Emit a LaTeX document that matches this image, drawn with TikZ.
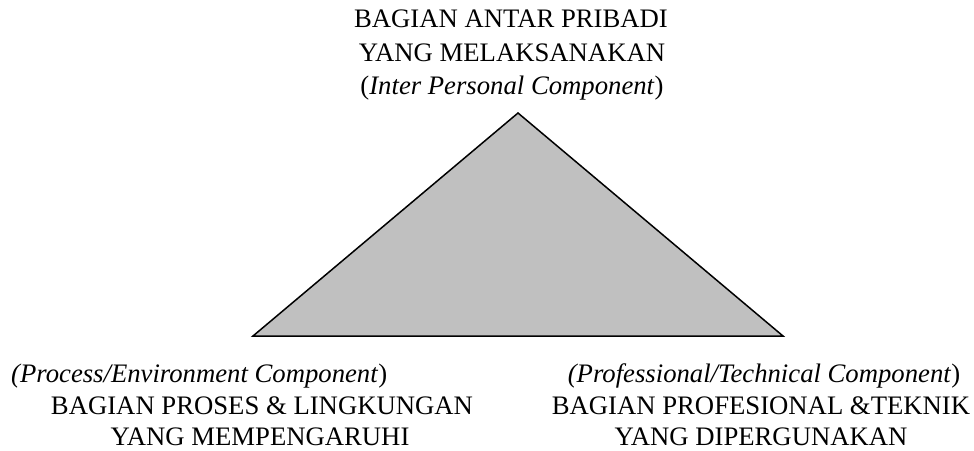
\documentclass[tikz,border=0pt]{standalone}
\usepackage{fontspec}
\setmainfont{Liberation Serif}
\begin{document}
\begin{tikzpicture}[x=1pt,y=-1pt,
	lbl/.style={inner sep=0pt,anchor=base,font=\fontsize{26.7}{33}\selectfont},
	lblw/.style={lbl,anchor=base west}]
	\useasboundingbox (0,0) rectangle (974,450);
	\coordinate (T) at (518,113);
	\coordinate (L) at (253,336);
	\coordinate (R) at (783,336);
	\draw [line width=1.5pt,line join=miter,fill={rgb,255:red,192;green,192;blue,192}] (T) -- (L) -- (R) -- cycle;
	% top
	\node [lbl] (t1) at (511,27) {BAGIAN ANTAR PRIBADI};
	\node [lbl] (t2) at (512,61) {YANG MELAKSANAKAN};
	\node [lbl] (t3) at (512,94) {(\textit{Inter Personal Component})};
	% left
	\node [lblw] (l1) at (11,382) {\textit{(Process/Environment Component})};
	\node [lbl] (l2) at (262,414) {BAGIAN PROSES \& LINGKUNGAN};
	\node [lbl] (l3) at (260,445) {YANG MEMPENGARUHI};
	% right
	\node [lbl] (r1) at (764,382) {\textit{(Professional/Technical Component})};
	\node [lbl] (r2) at (761,414) {BAGIAN PROFESIONAL \&TEKNIK};
	\node [lbl] (r3) at (761,445) {YANG DIPERGUNAKAN};
\end{tikzpicture}
\end{document}
